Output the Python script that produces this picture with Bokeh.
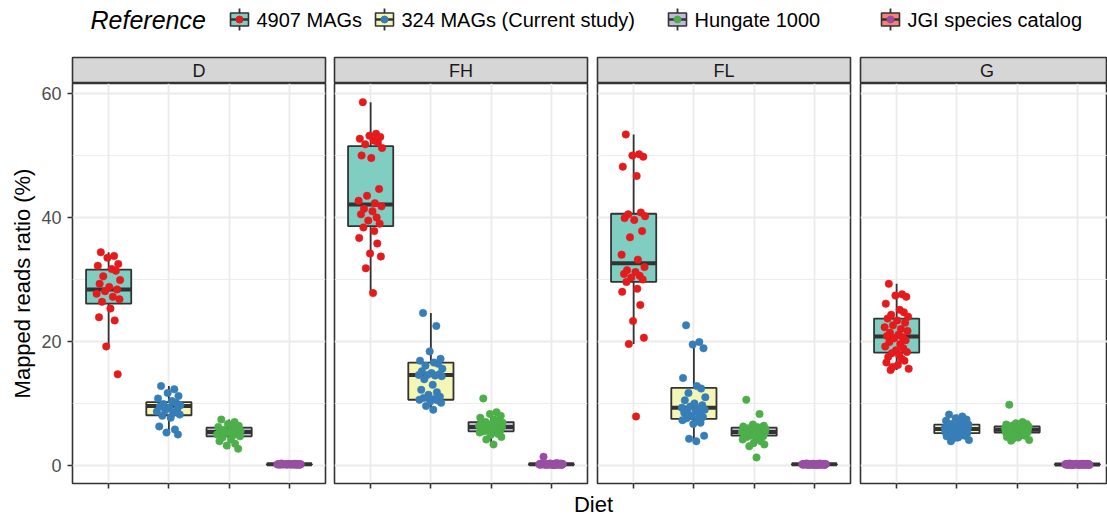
from bokeh.plotting import figure
from bokeh.layouts import column, row
from bokeh.models import Range1d, FixedTicker, Grid, LinearAxis, ColumnDataSource
from bokeh.core.properties import value
from bokeh.embed import file_html
from bokeh.resources import INLINE

FONT = "Liberation Sans"

DIETS = ["D", "FH", "FL", "G"]
REFERENCES = ["4907 MAGs", "324 MAGs (Current study)", "Hungate 1000", "JGI species catalog"]
Y_TICKS = [0, 20, 40, 60]
Y_MINOR = [10, 30, 50]

# ---- per-sample mapped reads ratio (%) ----
D_4907 = [34.4, 33.8, 33.5, 32.5, 32.2, 31.7, 31.4, 30.5, 29.9, 29.3, 28.8, 28.4, 28.1, 27.7, 27.2,
          26.8, 26.4, 25.3, 23.9, 23.4, 19.2, 14.7]
D_324 = [12.8, 12.3, 11.7, 11.2, 10.8, 10.4, 10.1, 9.9, 9.7, 9.5, 9.3, 9.1, 8.9, 8.7, 8.5, 8.2, 8.0,
         7.7, 6.3, 5.8, 5.3, 5.0]
D_HUNGATE = [7.4, 7.0, 6.7, 6.4, 6.2, 6.0, 5.9, 5.7, 5.6, 5.5, 5.4, 5.3, 5.2, 5.0, 4.9, 4.7, 4.5, 4.2,
             3.9, 3.5, 3.2, 2.7]
D_JGI = [0.30, 0.27, 0.26, 0.25, 0.24, 0.23, 0.22, 0.21, 0.20, 0.20, 0.19, 0.18, 0.18, 0.17, 0.16,
         0.15, 0.14, 0.13, 0.12, 0.11, 0.10, 0.08]

FH_4907 = [58.6, 53.5, 53.2, 53.0, 52.7, 52.4, 52.1, 51.8, 51.2, 50.0, 49.6, 44.6, 43.5, 42.7, 42.3,
           41.8, 41.4, 41.0, 40.5, 40.0, 39.5, 39.0, 38.4, 37.8, 36.7, 35.8, 34.2, 33.7, 31.8, 27.8]
FH_324 = [24.6, 22.5, 18.4, 17.2, 16.9, 16.6, 16.4, 16.1, 15.6, 15.2, 14.9, 14.7, 14.6, 14.6, 14.5,
          14.4, 13.9, 13.0, 12.2, 11.8, 11.4, 11.1, 10.9, 10.7, 10.6, 10.5, 10.3, 10.1, 9.6, 9.0]
FH_HUNGATE = [10.8, 8.6, 8.3, 8.0, 7.7, 7.4, 7.2, 7.0, 6.9, 6.8, 6.7, 6.6, 6.5, 6.4, 6.3, 6.2, 6.1,
              6.0, 5.9, 5.8, 5.7, 5.6, 5.5, 5.4, 5.3, 5.1, 4.9, 4.6, 4.2, 3.4]
FH_JGI = [1.40, 0.38, 0.33, 0.30, 0.28, 0.27, 0.26, 0.25, 0.24, 0.23, 0.22, 0.21, 0.20, 0.20, 0.19,
          0.18, 0.18, 0.17, 0.16, 0.16, 0.15, 0.14, 0.14, 0.13, 0.12, 0.11, 0.10, 0.09, 0.07, 0.05]

FL_4907 = [53.4, 50.2, 50.0, 49.8, 48.2, 46.7, 40.8, 40.5, 40.2, 39.9, 39.6, 37.8, 36.8, 34.0, 33.2,
           32.0, 31.5, 31.2, 30.9, 30.6, 30.3, 30.0, 29.6, 28.5, 28.0, 25.9, 23.3, 20.6, 19.6, 7.9]
FL_324 = [22.6, 19.9, 19.5, 18.9, 14.1, 12.8, 12.4, 11.7, 11.0, 10.5, 10.0, 9.7, 9.5, 9.3, 9.2, 9.0,
          8.9, 8.7, 8.5, 8.3, 8.0, 7.8, 7.6, 7.5, 7.3, 6.9, 6.7, 4.8, 4.3, 3.9]
FL_HUNGATE = [10.6, 8.3, 6.6, 6.4, 6.3, 6.2, 6.1, 6.0, 5.9, 5.8, 5.7, 5.6, 5.5, 5.4, 5.4, 5.3, 5.2,
              5.1, 5.0, 4.9, 4.8, 4.7, 4.6, 4.4, 4.2, 3.9, 3.6, 3.4, 3.1, 1.3]
FL_JGI = [0.32, 0.30, 0.28, 0.27, 0.26, 0.25, 0.24, 0.23, 0.23, 0.22, 0.21, 0.20, 0.20, 0.19, 0.18,
          0.18, 0.17, 0.16, 0.16, 0.15, 0.14, 0.14, 0.13, 0.12, 0.11, 0.10, 0.09, 0.08, 0.07, 0.06]

G_4907 = [29.3, 27.6, 27.4, 27.2, 26.1, 25.1, 24.7, 24.3, 24.0, 23.7, 23.4, 23.0, 22.6, 22.3, 22.0,
          21.7, 21.4, 21.1, 20.9, 20.7, 20.5, 20.2, 19.9, 19.6, 19.2, 18.9, 18.6, 18.3, 18.1, 17.8,
          17.5, 17.2, 16.9, 16.6, 16.2, 15.9, 15.6, 15.4]
G_324 = [8.2, 7.9, 7.6, 7.4, 7.2, 7.0, 6.8, 6.7, 6.6, 6.5, 6.4, 6.3, 6.2, 6.1, 6.0, 6.0, 5.9, 5.9,
         5.8, 5.8, 5.7, 5.6, 5.6, 5.5, 5.4, 5.3, 5.3, 5.2, 5.2, 5.1, 5.0, 4.9, 4.8, 4.7, 4.5, 4.3,
         4.1, 3.9]
G_HUNGATE = [9.8, 7.0, 6.8, 6.7, 6.6, 6.5, 6.4, 6.4, 6.3, 6.2, 6.1, 6.1, 6.0, 6.0, 5.9, 5.9, 5.8,
             5.8, 5.7, 5.7, 5.6, 5.6, 5.5, 5.5, 5.4, 5.4, 5.3, 5.3, 5.2, 5.1, 5.0, 4.9, 4.8, 4.6,
             4.5, 4.3, 4.1, 4.0]
G_JGI = [0.30, 0.28, 0.27, 0.26, 0.25, 0.24, 0.24, 0.23, 0.22, 0.22, 0.21, 0.21, 0.20, 0.20, 0.19,
         0.19, 0.18, 0.18, 0.17, 0.17, 0.17, 0.16, 0.16, 0.15, 0.15, 0.14, 0.14, 0.13, 0.13, 0.12,
         0.12, 0.11, 0.11, 0.10, 0.09, 0.09, 0.08, 0.07]

# ---- box statistics (lower whisker, Q1, median, Q3, upper whisker), order = REFERENCES ----
D_LOWER = [19.2, 5.0, 2.7, 0.08]
D_Q1 = [26.1, 8.1, 4.7, 0.14]
D_MEDIAN = [28.4, 9.6, 5.4, 0.18]
D_Q3 = [31.6, 10.2, 6.1, 0.23]
D_UPPER = [34.4, 12.8, 7.4, 0.30]

FH_LOWER = [27.8, 9.0, 3.4, 0.05]
FH_Q1 = [38.6, 10.6, 5.5, 0.13]
FH_MEDIAN = [42.1, 14.6, 6.2, 0.18]
FH_Q3 = [51.5, 16.6, 7.0, 0.24]
FH_UPPER = [58.6, 24.6, 8.6, 0.38]

FL_LOWER = [19.6, 3.9, 3.1, 0.06]
FL_Q1 = [29.6, 7.5, 4.8, 0.13]
FL_MEDIAN = [32.6, 9.3, 5.4, 0.18]
FL_Q3 = [40.6, 12.5, 6.1, 0.23]
FL_UPPER = [53.4, 19.9, 6.6, 0.32]

G_LOWER = [15.4, 3.9, 4.0, 0.07]
G_Q1 = [18.2, 5.2, 5.3, 0.13]
G_MEDIAN = [20.8, 5.9, 5.75, 0.17]
G_Q3 = [23.7, 6.6, 6.3, 0.22]
G_UPPER = [29.3, 8.2, 7.0, 0.30]

POINTS = {
    "D": [D_4907, D_324, D_HUNGATE, D_JGI],
    "FH": [FH_4907, FH_324, FH_HUNGATE, FH_JGI],
    "FL": [FL_4907, FL_324, FL_HUNGATE, FL_JGI],
    "G": [G_4907, G_324, G_HUNGATE, G_JGI],
}
BOXES = {
    "D": (D_LOWER, D_Q1, D_MEDIAN, D_Q3, D_UPPER),
    "FH": (FH_LOWER, FH_Q1, FH_MEDIAN, FH_Q3, FH_UPPER),
    "FL": (FL_LOWER, FL_Q1, FL_MEDIAN, FL_Q3, FL_UPPER),
    "G": (G_LOWER, G_Q1, G_MEDIAN, G_Q3, G_UPPER),
}

# ---- styles ----
BOX_FILL = ["#80CDC1", "#F5F5B5", "#BEBADA", "#FB8072"]
POINT_COLOR = ["#E41A1C", "#377EB8", "#4DAF4A", "#984EA3"]
DARK = "#333333"
GRID = "#EBEBEB"
STRIP_FILL = "#D6D6D6"
JITTER = [-0.13, 0.09, -0.02, 0.16, -0.18, 0.05, 0.12, -0.09, 0.19, -0.15, 0.01, 0.14, -0.06,
          -0.20, 0.07, 0.18, -0.11, 0.03, -0.16, 0.10, -0.04, 0.15, -0.12, 0.06, -0.19, 0.11,
          -0.01, 0.17, -0.08, 0.04, -0.14, 0.08, 0.13, -0.17, 0.02, -0.07, 0.20, -0.10]
BOX_W = 0.75

# layout (px)
PANEL_W = [327, 262, 263, 255]
BORDER_L = [72, 7, 8, 8]
BORDER_R = [2, 2, 2, 0]
FRAME_H = 400
PANEL_H = 409
STRIP_H = 27
LEGEND_H = 56
XLAB_H = 25
TOTAL_W = sum(PANEL_W)
Y_RANGE = (-2.91, 61.61)
PX_PER_UNIT = 253.0 / 4.2


def strip_grids(p):
    p.center = [r for r in p.center if not isinstance(r, Grid)]


columns = []
for i, diet in enumerate(DIETS):
    frame_w = PANEL_W[i] - BORDER_L[i] - BORDER_R[i]
    x_end = 0.4 + frame_w / PX_PER_UNIT
    xr = Range1d(0.4, x_end)
    strip_mid = 0.4 + 253.0 / PX_PER_UNIT / 2

    # strip
    s = figure(width=PANEL_W[i], height=STRIP_H, x_range=xr, y_range=Range1d(0, 1),
               x_axis_location=None, y_axis_location=None, toolbar_location=None,
               output_backend="svg", min_border_left=BORDER_L[i], min_border_right=BORDER_R[i],
               min_border_top=1, min_border_bottom=0)
    strip_grids(s)
    s.background_fill_color = STRIP_FILL
    s.border_fill_color = "white"
    s.outline_line_color = DARK
    s.outline_line_width = 1.6
    s.text(x=[strip_mid], y=[0.5], text=[diet], text_align="center",
           text_baseline="middle", text_font=value(FONT), text_font_size="18px",
           text_color="#1A1A1A")

    # panel
    p = figure(width=PANEL_W[i], height=PANEL_H, x_range=xr, y_range=Range1d(*Y_RANGE),
               x_axis_location=None, y_axis_location="left" if i == 0 else None,
               toolbar_location=None, output_backend="svg",
               min_border_left=BORDER_L[i], min_border_right=BORDER_R[i],
               min_border_top=0, min_border_bottom=PANEL_H - FRAME_H)
    strip_grids(p)
    p.background_fill_color = "white"
    p.border_fill_color = "white"
    p.outline_line_color = DARK
    p.outline_line_width = 1.6

    yg = Grid(dimension=1, ticker=FixedTicker(ticks=Y_TICKS, minor_ticks=Y_MINOR),
              grid_line_color=GRID, grid_line_width=1.8,
              minor_grid_line_color=GRID, minor_grid_line_width=0.9)
    xg = Grid(dimension=0, ticker=FixedTicker(ticks=[1, 2, 3, 4]),
              grid_line_color=GRID, grid_line_width=1.8)
    p.add_layout(yg, "center")
    p.add_layout(xg, "center")

    xa = LinearAxis(ticker=FixedTicker(ticks=[1, 2, 3, 4]), major_label_text_font_size="0px",
                    major_label_standoff=0, major_tick_out=5, major_tick_in=0,
                    major_tick_line_color=DARK, major_tick_line_width=1.6,
                    minor_tick_line_color=None, axis_line_color=None)
    xa.major_label_overrides = {1: "", 2: "", 3: "", 4: ""}
    p.add_layout(xa, "below")

    if i == 0:
        ya = p.yaxis[0]
        ya.ticker = FixedTicker(ticks=Y_TICKS)
        ya.axis_line_color = None
        ya.major_tick_line_color = DARK
        ya.major_tick_line_width = 1.6
        ya.major_tick_out = 5
        ya.major_tick_in = 0
        ya.minor_tick_line_color = None
        ya.major_label_standoff = 6
        ya.major_label_text_font = FONT
        ya.major_label_text_font_size = "18px"
        ya.major_label_text_color = "#4D4D4D"
        ya.axis_label = "Mapped reads ratio (%)"
        ya.axis_label_standoff = 3
        ya.axis_label_text_font = FONT
        ya.axis_label_text_font_size = "22px"
        ya.axis_label_text_font_style = "normal"
        ya.axis_label_text_color = "black"

    lower, q1, med, q3, upper = BOXES[diet]
    xs = [j + 1 for j in range(len(REFERENCES))]
    box_src = ColumnDataSource(dict(
        x=xs, lower=lower, q1=q1, med=med, q3=q3, upper=upper, fill=BOX_FILL,
        left=[x - BOX_W / 2 for x in xs], right=[x + BOX_W / 2 for x in xs]))
    p.segment(x0="x", y0="lower", x1="x", y1="upper", source=box_src,
              line_color=DARK, line_width=1.8)
    p.vbar(x="x", bottom="q1", top="q3", width=BOX_W, source=box_src, fill_color="fill",
           line_color=DARK, line_width=1.8)
    p.segment(x0="left", y0="med", x1="right", y1="med", source=box_src,
              line_color=DARK, line_width=4)

    for j, vals in enumerate(POINTS[diet]):
        px = [j + 1 + JITTER[k % len(JITTER)] for k in range(len(vals))]
        p.scatter(x=px, y=vals, size=7.5, fill_color=POINT_COLOR[j],
                  line_color=POINT_COLOR[j], line_width=0.5)

    columns.append(column(s, p, spacing=0))

panels = row(*columns, spacing=0)

# ---- legend ----
leg = figure(width=TOTAL_W, height=LEGEND_H, x_range=Range1d(0, TOTAL_W),
             y_range=Range1d(LEGEND_H, 0), x_axis_location=None, y_axis_location=None,
             toolbar_location=None, output_backend="svg",
             min_border=0, min_border_left=0, min_border_right=0, min_border_top=0,
             min_border_bottom=0)
strip_grids(leg)
leg.outline_line_color = None
LEG_CY = 19
KEY_CX = [239, 384, 677, 890]
leg.text(x=[90], y=[LEG_CY], text=["Reference"], text_align="left", text_baseline="middle",
         text_font=value(FONT), text_font_size="25px", text_font_style="italic",
         text_color="black")
kx = KEY_CX
leg.segment(x0=kx, y0=[LEG_CY - 11] * 4, x1=kx, y1=[LEG_CY + 11] * 4, line_color=DARK,
            line_width=1.8)
leg.rect(x=kx, y=[LEG_CY] * 4, width=18, height=13, fill_color=BOX_FILL, line_color=DARK,
         line_width=1.6)
leg.segment(x0=[k - 9 for k in kx], y0=[LEG_CY] * 4, x1=[k + 9 for k in kx], y1=[LEG_CY] * 4,
            line_color=DARK, line_width=2.5)
leg.scatter(x=kx, y=[LEG_CY] * 4, size=7, fill_color=POINT_COLOR, line_color=POINT_COLOR)
leg.text(x=[k + 17 for k in kx], y=[LEG_CY] * 4, text=REFERENCES, text_align="left",
         text_baseline="middle", text_font=value(FONT), text_font_size="20px",
         text_color="black")

# ---- x axis title ----
xl = figure(width=TOTAL_W, height=XLAB_H, x_range=Range1d(0, TOTAL_W),
            y_range=Range1d(XLAB_H, 0), x_axis_location=None, y_axis_location=None,
            toolbar_location=None, output_backend="svg",
            min_border=0, min_border_left=0, min_border_right=0, min_border_top=0,
            min_border_bottom=0)
strip_grids(xl)
xl.outline_line_color = None
xl.text(x=[593], y=[12], text=["Diet"], text_align="center", text_baseline="middle",
        text_font=value(FONT), text_font_size="22px", text_color="black")

layout = column(leg, panels, xl, spacing=0)
open("out.html", "w").write(file_html(layout, INLINE))
